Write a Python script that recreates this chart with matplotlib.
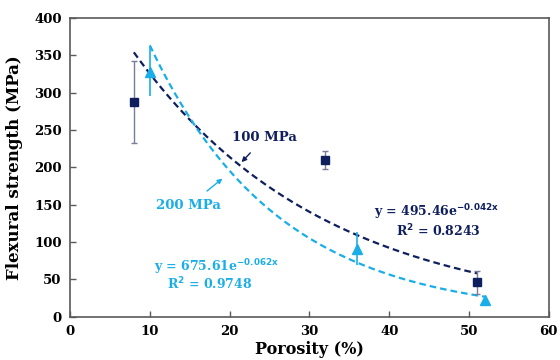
import numpy as np
import matplotlib
matplotlib.use("Agg")
import matplotlib.pyplot as plt

plt.rcParams['font.family'] = ['DejaVu Serif']
plt.rcParams['font.weight'] = 'bold'

# 100 MPa series
por_100 = [8, 32, 51]
str_100 = [287, 210, 46]
err_100 = [55, 12, 15]

# 200 MPa series
por_200 = [10, 36, 52]
str_200 = [328, 91, 22]
err_200 = [33, 22, 0]

# exponential fits (y = a * exp(b * x))
fit_100 = (495.46, -0.042)
fit_200 = (675.61, -0.062)

navy = '#0f1f5e'
cyan = '#1aaee8'
spine_col = '#595959'

fig = plt.figure(figsize=(5.6, 3.6), dpi=100)
ax = fig.add_axes([0.125, 0.12, 0.855, 0.83])

# trend lines
x1 = np.linspace(min(por_100), max(por_100), 200)
ax.plot(x1, fit_100[0] * np.exp(fit_100[1] * x1), color=navy, linestyle=(0, (3, 1.8)), linewidth=1.6)
x2 = np.linspace(min(por_200), max(por_200), 200)
ax.plot(x2, fit_200[0] * np.exp(fit_200[1] * x2), color=cyan, linestyle=(0, (3, 1.8)), linewidth=1.6)

# data with error bars
ax.errorbar(por_100, str_100, yerr=err_100, fmt='s', color=navy, markersize=6,
            ecolor='#7a7f99', elinewidth=1, capsize=2, capthick=1, zorder=3)
ax.errorbar(por_200, str_200, yerr=err_200, fmt='^', color=cyan, markersize=7,
            ecolor=cyan, elinewidth=1.2, capsize=0, zorder=3)

# labels with arrows
ax.annotate('100 MPa', xy=(21.5, 207), xytext=(24.4, 240), color=navy, fontsize=9.5,
            ha='center', va='center',
            arrowprops=dict(arrowstyle='-|>', color=navy, lw=1, mutation_scale=7, shrinkA=6, shrinkB=0))
ax.annotate('200 MPa', xy=(19.1, 185), xytext=(14.9, 149), color=cyan, fontsize=9.5,
            ha='center', va='center',
            arrowprops=dict(arrowstyle='-|>', color=cyan, lw=1, mutation_scale=7, shrinkA=6, shrinkB=0))

# fit equations
ax.text(45.9, 140, r'y = 495.46e$^{\mathbf{-0.042x}}$', color=navy, fontsize=9, ha='center', va='center')
ax.text(46.1, 115, r'R$^{\mathbf{2}}$ = 0.8243', color=navy, fontsize=9, ha='center', va='center')
ax.text(18.3, 67, r'y = 675.61e$^{\mathbf{-0.062x}}$', color=cyan, fontsize=9, ha='center', va='center')
ax.text(17.5, 44, r'R$^{\mathbf{2}}$ = 0.9748', color=cyan, fontsize=9, ha='center', va='center')

ax.set_xlim(0, 60)
ax.set_ylim(0, 400)
ax.set_xticks(np.arange(0, 61, 10))
ax.set_yticks(np.arange(0, 401, 50))
ax.tick_params(direction='in', length=4, width=1, color=spine_col, labelsize=9.5, pad=6)
for lab in ax.get_xticklabels() + ax.get_yticklabels():
    lab.set_fontweight('bold')
for s in ax.spines.values():
    s.set_color(spine_col)
    s.set_linewidth(1.2)

ax.set_xlabel('Porosity (%)', fontsize=11.5, fontweight='bold', labelpad=2)
ax.set_ylabel('Flexural strength (MPa)', fontsize=12, fontweight='bold', labelpad=8)

fig.savefig('out.png', dpi=100)
